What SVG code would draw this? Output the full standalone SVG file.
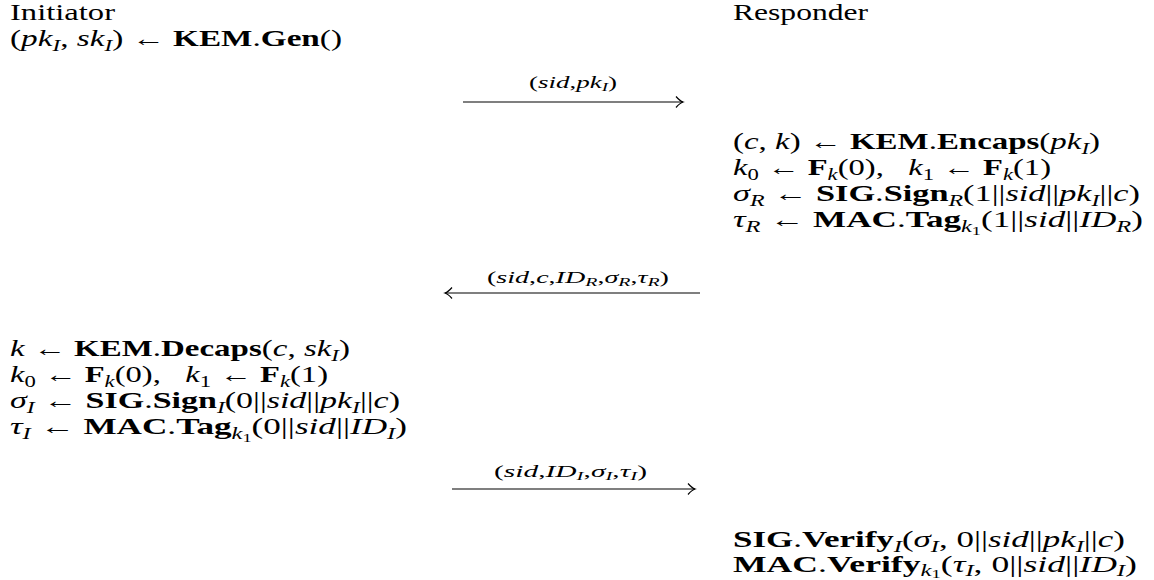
<svg xmlns="http://www.w3.org/2000/svg" width="1154" height="580" viewBox="0 0 1154 580">
<style>
text{font-family:"Liberation Serif","DejaVu Serif",serif;fill:#000}
.t{font-size:23px}
.l{font-size:17px}
.i{font-style:italic}
.b{font-weight:bold}
.s{font-size:16px}
.ls{font-size:12px}
.ss{font-size:12px}
.arr{fill:none;stroke:#000;stroke-width:1.2}
</style>
<defs>
<marker id="ah" markerWidth="12" markerHeight="14" refX="10" refY="7" orient="auto" markerUnits="userSpaceOnUse">
<path d="M3,1.5 Q7,6 10,7 Q7,8 3,12.5" fill="none" stroke="#000" stroke-width="1.2"/>
</marker>
</defs>
<rect width="1154" height="580" fill="#fff"/>

<g id="initiator-label"><text class="t" x="10" y="20" textLength="105" lengthAdjust="spacingAndGlyphs">Initiator</text></g>
<g id="responder-label"><text class="t" x="733" y="20" textLength="135" lengthAdjust="spacingAndGlyphs">Responder</text></g>

<g id="initiator-keygen">
<text class="t" x="10" y="46" textLength="332" lengthAdjust="spacingAndGlyphs">(<tspan class="i">pk</tspan><tspan class="i s" dy="5">I</tspan><tspan dy="-5">, </tspan><tspan class="i">sk</tspan><tspan class="i s" dy="5">I</tspan><tspan dy="-5">) ← </tspan><tspan class="b">KEM</tspan>.<tspan class="b">Gen</tspan>()</text>
</g>

<g id="responder-compute">
<text class="t" x="733" y="149" textLength="367" lengthAdjust="spacingAndGlyphs">(<tspan class="i">c</tspan>, <tspan class="i">k</tspan>) ← <tspan class="b">KEM</tspan>.<tspan class="b">Encaps</tspan>(<tspan class="i">pk</tspan><tspan class="i s" dy="5">I</tspan><tspan dy="-5">)</tspan></text>
<text class="t" x="733" y="175" textLength="318" lengthAdjust="spacingAndGlyphs"><tspan class="i">k</tspan><tspan class="s" dy="5">0</tspan><tspan dy="-5"> ← </tspan><tspan class="b">F</tspan><tspan class="i s" dy="5">k</tspan><tspan dy="-5">(0),&#160;&#160; </tspan><tspan class="i">k</tspan><tspan class="s" dy="5">1</tspan><tspan dy="-5"> ← </tspan><tspan class="b">F</tspan><tspan class="i s" dy="5">k</tspan><tspan dy="-5">(1)</tspan></text>
<text class="t" x="733" y="201" textLength="407" lengthAdjust="spacingAndGlyphs"><tspan class="i">σ</tspan><tspan class="i s" dy="5">R</tspan><tspan dy="-5"> ← </tspan><tspan class="b">SIG</tspan>.<tspan class="b">Sign</tspan><tspan class="i s" dy="5">R</tspan><tspan dy="-5">(1||</tspan><tspan class="i">sid</tspan>||<tspan class="i">pk</tspan><tspan class="i s" dy="5">I</tspan><tspan dy="-5">||</tspan><tspan class="i">c</tspan>)</text>
<text class="t" x="733" y="227" textLength="410" lengthAdjust="spacingAndGlyphs"><tspan class="i">τ</tspan><tspan class="i s" dy="5">R</tspan><tspan dy="-5"> ← </tspan><tspan class="b">MAC</tspan>.<tspan class="b">Tag</tspan><tspan class="i s" dy="5">k</tspan><tspan class="ss" dy="3">1</tspan><tspan dy="-8">(1||</tspan><tspan class="i">sid</tspan>||<tspan class="i">ID</tspan><tspan class="i s" dy="5">R</tspan><tspan dy="-5">)</tspan></text>
</g>

<g id="initiator-compute">
<text class="t" x="10" y="356" textLength="340" lengthAdjust="spacingAndGlyphs"><tspan class="i">k</tspan> ← <tspan class="b">KEM</tspan>.<tspan class="b">Decaps</tspan>(<tspan class="i">c</tspan>, <tspan class="i">sk</tspan><tspan class="i s" dy="5">I</tspan><tspan dy="-5">)</tspan></text>
<text class="t" x="10" y="382" textLength="318" lengthAdjust="spacingAndGlyphs"><tspan class="i">k</tspan><tspan class="s" dy="5">0</tspan><tspan dy="-5"> ← </tspan><tspan class="b">F</tspan><tspan class="i s" dy="5">k</tspan><tspan dy="-5">(0),&#160;&#160; </tspan><tspan class="i">k</tspan><tspan class="s" dy="5">1</tspan><tspan dy="-5"> ← </tspan><tspan class="b">F</tspan><tspan class="i s" dy="5">k</tspan><tspan dy="-5">(1)</tspan></text>
<text class="t" x="10" y="408" textLength="390" lengthAdjust="spacingAndGlyphs"><tspan class="i">σ</tspan><tspan class="i s" dy="5">I</tspan><tspan dy="-5"> ← </tspan><tspan class="b">SIG</tspan>.<tspan class="b">Sign</tspan><tspan class="i s" dy="5">I</tspan><tspan dy="-5">(0||</tspan><tspan class="i">sid</tspan>||<tspan class="i">pk</tspan><tspan class="i s" dy="5">I</tspan><tspan dy="-5">||</tspan><tspan class="i">c</tspan>)</text>
<text class="t" x="10" y="434" textLength="397" lengthAdjust="spacingAndGlyphs"><tspan class="i">τ</tspan><tspan class="i s" dy="5">I</tspan><tspan dy="-5"> ← </tspan><tspan class="b">MAC</tspan>.<tspan class="b">Tag</tspan><tspan class="i s" dy="5">k</tspan><tspan class="ss" dy="3">1</tspan><tspan dy="-8">(0||</tspan><tspan class="i">sid</tspan>||<tspan class="i">ID</tspan><tspan class="i s" dy="5">I</tspan><tspan dy="-5">)</tspan></text>
</g>

<g id="responder-verify">
<text class="t" x="733" y="547" textLength="392" lengthAdjust="spacingAndGlyphs"><tspan class="b">SIG</tspan>.<tspan class="b">Verify</tspan><tspan class="i s" dy="5">I</tspan><tspan dy="-5">(</tspan><tspan class="i">σ</tspan><tspan class="i s" dy="5">I</tspan><tspan dy="-5">, 0||</tspan><tspan class="i">sid</tspan>||<tspan class="i">pk</tspan><tspan class="i s" dy="5">I</tspan><tspan dy="-5">||</tspan><tspan class="i">c</tspan>)</text>
<text class="t" x="733" y="572" textLength="404" lengthAdjust="spacingAndGlyphs"><tspan class="b">MAC</tspan>.<tspan class="b">Verify</tspan><tspan class="i s" dy="4">k</tspan><tspan class="ss" dy="2">1</tspan><tspan dy="-6">(</tspan><tspan class="i">τ</tspan><tspan class="i s" dy="4">I</tspan><tspan dy="-4">, 0||</tspan><tspan class="i">sid</tspan>||<tspan class="i">ID</tspan><tspan class="i s" dy="4">I</tspan><tspan dy="-4">)</tspan></text>
</g>

<g id="connectors">
<g id="msg1">
<path class="arr" d="M463,102 H683" marker-end="url(#ah)"/>
<text class="l" x="529" y="88" textLength="88" lengthAdjust="spacingAndGlyphs">(<tspan class="i">sid</tspan>,<tspan class="i">pk</tspan><tspan class="i ls" dy="3">I</tspan><tspan dy="-3">)</tspan></text>
</g>
<g id="msg2">
<path class="arr" d="M700,293 H445" marker-end="url(#ah)"/>
<text class="l" x="487" y="283" textLength="182" lengthAdjust="spacingAndGlyphs">(<tspan class="i">sid</tspan>,<tspan class="i">c</tspan>,<tspan class="i">ID</tspan><tspan class="i ls" dy="3">R</tspan><tspan dy="-3">,</tspan><tspan class="i">σ</tspan><tspan class="i ls" dy="3">R</tspan><tspan dy="-3">,</tspan><tspan class="i">τ</tspan><tspan class="i ls" dy="3">R</tspan><tspan dy="-3">)</tspan></text>
</g>
<g id="msg3">
<path class="arr" d="M452,489 H695" marker-end="url(#ah)"/>
<text class="l" x="494" y="477" textLength="153" lengthAdjust="spacingAndGlyphs">(<tspan class="i">sid</tspan>,<tspan class="i">ID</tspan><tspan class="i ls" dy="3">I</tspan><tspan dy="-3">,</tspan><tspan class="i">σ</tspan><tspan class="i ls" dy="3">I</tspan><tspan dy="-3">,</tspan><tspan class="i">τ</tspan><tspan class="i ls" dy="3">I</tspan><tspan dy="-3">)</tspan></text>
</g>
</g>
</svg>
